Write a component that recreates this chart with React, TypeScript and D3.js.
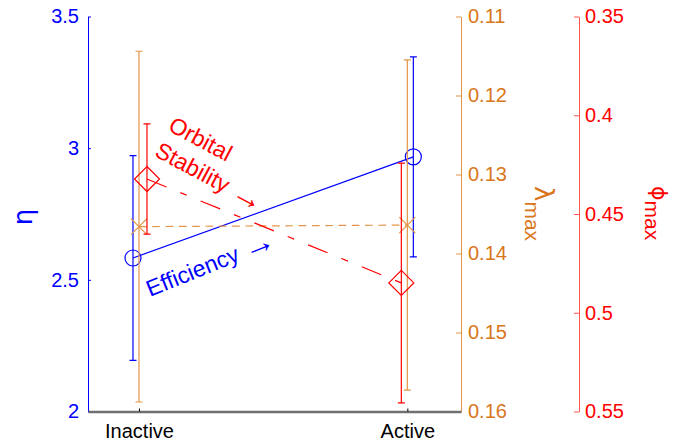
import React, { useEffect, useRef } from 'react';
import * as d3 from 'd3';

const categories = ['Inactive', 'Active'];

// efficiency (left axis)
const etaMean = [2.583, 2.967];
const etaErr = [0.389, 0.38];

// lambda max (middle axis, reversed)
const lambdaMean = [0.1366, 0.1364];
const lambdaErr = [0.0222, 0.0209];

// phi max (right axis, reversed)
const phiMean = [0.4323, 0.4849];
const phiErr = [0.0279, 0.0607];

const etaTicks = [2, 2.5, 3, 3.5];
const lambdaTicks = [0.11, 0.12, 0.13, 0.14, 0.15, 0.16];
const phiTicks = [0.35, 0.4, 0.45, 0.5, 0.55];

const W = 692;
const H = 445;
const FONT = '"Liberation Sans", Arial, Helvetica, sans-serif';
const BLUE = '#0000FF';
const ORANGE_TXT = '#D9761A';
const ORANGE = '#E39547';
const RED = '#FF0000';

export default function App() {
    const ref = useRef<SVGSVGElement | null>(null);

    useEffect(() => {
        const svg = d3.select(ref.current);
        svg.selectAll('*').remove();

        const top = 16.5;
        const bottom = 411.5;
        const xLeft = 88;
        const xMid = 461;
        const xRight = 579;

        const x = d3.scaleLinear().domain([0.81, 2.2]).range([xLeft, xMid]);
        const yEta = d3.scaleLinear().domain([2, 3.5]).range([bottom, top]);
        const yLam = d3.scaleLinear().domain([0.11, 0.16]).range([top, bottom]);
        const yPhi = d3.scaleLinear().domain([0.35, 0.55]).range([top, bottom]);

        const styleAxis = (g, color, textColor) => {
            g.select('.domain').attr('stroke', color);
            g.selectAll('.tick line').attr('stroke', color);
            g.selectAll('.tick text')
                .attr('fill', textColor)
                .style('font-family', FONT)
                .style('font-size', '20px');
        };

        // left axis
        const gEta = svg.append('g')
            .attr('transform', `translate(${xLeft},0)`)
            .call(d3.axisLeft(yEta).tickValues(etaTicks).tickFormat(d3.format('')).tickSizeInner(-3).tickSizeOuter(0).tickPadding(9));
        styleAxis(gEta, BLUE, BLUE);

        // middle axis
        const gLam = svg.append('g')
            .attr('transform', `translate(${xMid},0)`)
            .call(d3.axisRight(yLam).tickValues(lambdaTicks).tickFormat(d3.format('.2f')).tickSizeInner(-5).tickSizeOuter(0).tickPadding(7));
        styleAxis(gLam, ORANGE, ORANGE_TXT);

        // right axis
        const gPhi = svg.append('g')
            .attr('transform', `translate(${xRight},0)`)
            .call(d3.axisRight(yPhi).tickValues(phiTicks).tickFormat(d3.format('')).tickSizeInner(-5).tickSizeOuter(0).tickPadding(6));
        styleAxis(gPhi, '#FF5555', RED);

        // bottom axis
        const gX = svg.append('g')
            .attr('transform', `translate(0,${bottom})`)
            .call(d3.axisBottom(x).tickValues([1, 2]).tickFormat((d) => categories[d - 1]).tickSizeInner(-3).tickSizeOuter(0).tickPadding(12));
        gX.select('.domain').attr('stroke', '#707070').attr('stroke-width', 2.5);
        gX.selectAll('.tick line').attr('stroke', '#000');
        gX.selectAll('.tick text').attr('fill', '#000').style('font-family', FONT).style('font-size', '20px');

        const series = [
            { mean: etaMean, err: etaErr, y: yEta, off: [-6, 6], color: BLUE, dash: null, marker: 'circle' },
            { mean: lambdaMean, err: lambdaErr, y: yLam, off: [0, 0], color: ORANGE, dash: '7.7,5.6', marker: 'x' },
            { mean: phiMean, err: phiErr, y: yPhi, off: [8, -6], color: RED, dash: '21,15,7,15', marker: 'diamond' },
        ];

        const line = d3.line<number[]>().x((d) => d[0]).y((d) => d[1]);

        series.forEach((s) => {
            const pts = s.mean.map((m, i) => [x(i + 1) + s.off[i], s.y(m)]);
            const g = svg.append('g');

            g.append('path')
                .attr('d', line(pts))
                .attr('fill', 'none')
                .attr('stroke', s.color)
                .attr('stroke-width', 1.2)
                .attr('stroke-dasharray', s.dash);

            s.mean.forEach((m, i) => {
                const cx = pts[i][0];
                const y1 = s.y(m - s.err[i]);
                const y2 = s.y(m + s.err[i]);
                g.append('path')
                    .attr('d', `M${cx},${y1}V${y2}M${cx - 3.5},${y1}H${cx + 3.5}M${cx - 3.5},${y2}H${cx + 3.5}`)
                    .attr('fill', 'none')
                    .attr('stroke', s.color)
                    .attr('stroke-width', 1.2);
            });

            pts.forEach(([cx, cy]) => {
                if (s.marker === 'circle') {
                    g.append('circle').attr('cx', cx).attr('cy', cy).attr('r', 8)
                        .attr('fill', 'none').attr('stroke', s.color).attr('stroke-width', 1.2);
                } else if (s.marker === 'x') {
                    g.append('path')
                        .attr('d', `M${cx - 8},${cy - 8}L${cx + 8},${cy + 8}M${cx - 8},${cy + 8}L${cx + 8},${cy - 8}`)
                        .attr('stroke', s.color).attr('stroke-width', 1.2);
                } else {
                    g.append('path')
                        .attr('d', `M${cx},${cy - 12.5}L${cx + 12.5},${cy}L${cx},${cy + 12.5}L${cx - 12.5},${cy}Z`)
                        .attr('fill', 'none').attr('stroke', s.color).attr('stroke-width', 1.2);
                }
            });
        });

        // axis titles
        svg.append('text')
            .attr('transform', 'translate(32,217) rotate(-90)')
            .attr('text-anchor', 'middle')
            .attr('fill', BLUE)
            .style('font-family', '"DejaVu Sans", sans-serif')
            .style('font-size', '26px')
            .text('η');

        const lam = svg.append('text')
            .attr('transform', 'translate(535,186) rotate(90)')
            .attr('fill', ORANGE_TXT)
            .style('font-family', FONT);
        lam.append('tspan').style('font-family', '"DejaVu Sans", sans-serif').style('font-size', '26px').text('λ');
        lam.append('tspan').attr('dy', 10).style('font-size', '21px').text('max');

        const phi = svg.append('text')
            .attr('transform', 'translate(652,186) rotate(90)')
            .attr('fill', RED)
            .style('font-family', FONT);
        phi.append('tspan').style('font-family', '"DejaVu Sans", sans-serif').style('font-size', '22px').text('ϕ');
        phi.append('tspan').attr('dy', 7).style('font-size', '21px').text('max');

        // annotations
        const orb = svg.append('text')
            .attr('transform', 'translate(167,130) rotate(28)')
            .attr('fill', RED)
            .style('font-family', FONT)
            .style('font-size', '23px');
        orb.append('tspan').attr('x', 0).text('Orbital');
        orb.append('tspan').attr('x', 0).attr('dy', 29).text('Stability ');
        orb.append('tspan').attr('dy', 2).style('font-size', '32px').text('→');

        const eff = svg.append('text')
            .attr('transform', 'translate(150,297) rotate(-22)')
            .attr('fill', BLUE)
            .style('font-family', FONT)
            .style('font-size', '23px');
        eff.append('tspan').text('Efficiency ');
        eff.append('tspan').attr('dy', 2).style('font-size', '32px').text('→');
    }, []);

    return (
        <svg ref={ref} width={W} height={H}
            style={{ position: 'absolute', left: 0, top: 0, background: '#fff' }} />
    );
}
